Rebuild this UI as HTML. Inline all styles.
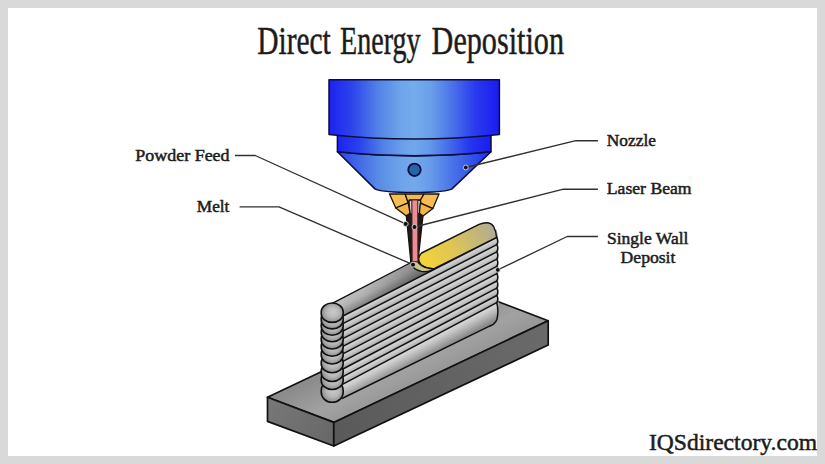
<!DOCTYPE html>
<html>
<head>
<meta charset="utf-8">
<title>Direct Energy Deposition</title>
<style>
  html, body { margin: 0; padding: 0; background: #d9d9d9; }
  body { width: 825px; height: 464px; overflow: hidden; font-family: "Liberation Serif", serif; }
  svg { display: block; }
  text { font-family: "Liberation Serif", serif; fill: #1c1c1c; stroke: #1c1c1c; stroke-width: 0.5px; }
</style>
</head>
<body>
<svg width="825" height="464" viewBox="0 0 825 464">
  <defs>
    <linearGradient id="gRing" x1="0" y1="0" x2="1" y2="0">
      <stop offset="0" stop-color="#1c22f2"/>
      <stop offset="0.14" stop-color="#2a40ec"/>
      <stop offset="0.3" stop-color="#5282e6"/>
      <stop offset="0.42" stop-color="#699fea"/>
      <stop offset="0.5" stop-color="#70a8ec"/>
      <stop offset="0.6" stop-color="#6698ea"/>
      <stop offset="0.72" stop-color="#466ee8"/>
      <stop offset="0.86" stop-color="#2636ee"/>
      <stop offset="1" stop-color="#1a1cf0"/>
    </linearGradient>
    <linearGradient id="gCone" x1="0" y1="0" x2="1" y2="0">
      <stop offset="0" stop-color="#2a44e6"/>
      <stop offset="0.28" stop-color="#5a8ee6"/>
      <stop offset="0.42" stop-color="#6ea4ea"/>
      <stop offset="0.5" stop-color="#72aaec"/>
      <stop offset="0.6" stop-color="#689cea"/>
      <stop offset="0.74" stop-color="#4a76e8"/>
      <stop offset="1" stop-color="#2030ea"/>
    </linearGradient>
    <linearGradient id="gBlue" x1="0" y1="0" x2="1" y2="0">
      <stop offset="0" stop-color="#1e20f2"/>
      <stop offset="0.14" stop-color="#2d46ea"/>
      <stop offset="0.3" stop-color="#5686e6"/>
      <stop offset="0.42" stop-color="#6ea4ea"/>
      <stop offset="0.5" stop-color="#74acec"/>
      <stop offset="0.6" stop-color="#6a9eea"/>
      <stop offset="0.72" stop-color="#4a74e8"/>
      <stop offset="0.86" stop-color="#2a3aee"/>
      <stop offset="1" stop-color="#1a1af2"/>
    </linearGradient>
    <linearGradient id="gBand" gradientUnits="userSpaceOnUse" x1="0" y1="0" x2="0" y2="7.57" spreadMethod="repeat">
      <stop offset="0" stop-color="#d4d4d4"/>
      <stop offset="0.2" stop-color="#d2d2d2"/>
      <stop offset="0.6" stop-color="#bcbcbc"/>
      <stop offset="1" stop-color="#969696"/>
    </linearGradient>
    <linearGradient id="gBandL" gradientUnits="userSpaceOnUse" x1="0" y1="68.1" x2="0" y2="84.1">
      <stop offset="0" stop-color="#d8d8d8"/>
      <stop offset="0.4" stop-color="#c4c4c4"/>
      <stop offset="1" stop-color="#8c8c8c"/>
    </linearGradient>
    <radialGradient id="gCap" cx="0.52" cy="0.5" r="0.62" fx="0.55" fy="0.45">
      <stop offset="0" stop-color="#cbcbcb"/>
      <stop offset="0.45" stop-color="#b8b8b8"/>
      <stop offset="1" stop-color="#7a7a7a"/>
    </radialGradient>
    <linearGradient id="gTopBead" gradientUnits="userSpaceOnUse" x1="0" y1="-17" x2="0" y2="0">
      <stop offset="0" stop-color="#c2c2c2"/>
      <stop offset="0.4" stop-color="#b8b8b8"/>
      <stop offset="1" stop-color="#868686"/>
    </linearGradient>
    <linearGradient id="gTopDark" gradientUnits="userSpaceOnUse" x1="-10" y1="0" x2="72" y2="0">
      <stop offset="0" stop-color="#000" stop-opacity="0"/>
      <stop offset="0.35" stop-color="#000" stop-opacity="0.04"/>
      <stop offset="1" stop-color="#000" stop-opacity="0.26"/>
    </linearGradient>
    <linearGradient id="gYellow" gradientUnits="userSpaceOnUse" x1="424" y1="262" x2="492" y2="228">
      <stop offset="0" stop-color="#f3d33c"/>
      <stop offset="0.4" stop-color="#e0c652"/>
      <stop offset="0.8" stop-color="#c2b57c"/>
      <stop offset="1" stop-color="#b2ad92"/>
    </linearGradient>
    <linearGradient id="gBaseTop" gradientUnits="userSpaceOnUse" x1="395" y1="340" x2="425" y2="400">
      <stop offset="0" stop-color="#8c8c8c"/>
      <stop offset="0.45" stop-color="#a2a2a2"/>
      <stop offset="1" stop-color="#8d8d8d"/>
    </linearGradient>
    <linearGradient id="gBaseL" gradientUnits="userSpaceOnUse" x1="267" y1="400" x2="334" y2="445">
      <stop offset="0" stop-color="#787878"/>
      <stop offset="1" stop-color="#676767"/>
    </linearGradient>
    <linearGradient id="gBaseR" gradientUnits="userSpaceOnUse" x1="334" y1="435" x2="548" y2="332">
      <stop offset="0" stop-color="#5a5a5a"/>
      <stop offset="1" stop-color="#6a6a6a"/>
    </linearGradient>
    <linearGradient id="b0" gradientUnits="userSpaceOnUse" x1="419.9" y1="276.7" x2="422.9" y2="282.6"><stop offset="0" stop-color="#d4d4d4"/><stop offset="0.3" stop-color="#cfcfcf"/><stop offset="0.7" stop-color="#bbbbbb"/><stop offset="1" stop-color="#a0a0a0"/></linearGradient><linearGradient id="b1" gradientUnits="userSpaceOnUse" x1="419.9" y1="284.1" x2="422.9" y2="290"><stop offset="0" stop-color="#d4d4d4"/><stop offset="0.3" stop-color="#cfcfcf"/><stop offset="0.7" stop-color="#bbbbbb"/><stop offset="1" stop-color="#a0a0a0"/></linearGradient><linearGradient id="b2" gradientUnits="userSpaceOnUse" x1="419.9" y1="291.5" x2="422.9" y2="297.4"><stop offset="0" stop-color="#d4d4d4"/><stop offset="0.3" stop-color="#cfcfcf"/><stop offset="0.7" stop-color="#bbbbbb"/><stop offset="1" stop-color="#a0a0a0"/></linearGradient><linearGradient id="b3" gradientUnits="userSpaceOnUse" x1="419.9" y1="298.9" x2="422.9" y2="304.8"><stop offset="0" stop-color="#d4d4d4"/><stop offset="0.3" stop-color="#cfcfcf"/><stop offset="0.7" stop-color="#bbbbbb"/><stop offset="1" stop-color="#a0a0a0"/></linearGradient><linearGradient id="b4" gradientUnits="userSpaceOnUse" x1="419.9" y1="306.4" x2="422.9" y2="312.2"><stop offset="0" stop-color="#d4d4d4"/><stop offset="0.3" stop-color="#cfcfcf"/><stop offset="0.7" stop-color="#bbbbbb"/><stop offset="1" stop-color="#a0a0a0"/></linearGradient><linearGradient id="b5" gradientUnits="userSpaceOnUse" x1="419.9" y1="313.8" x2="422.9" y2="319.6"><stop offset="0" stop-color="#d4d4d4"/><stop offset="0.3" stop-color="#cfcfcf"/><stop offset="0.7" stop-color="#bbbbbb"/><stop offset="1" stop-color="#a0a0a0"/></linearGradient><linearGradient id="b6" gradientUnits="userSpaceOnUse" x1="419.9" y1="321.2" x2="422.9" y2="327"><stop offset="0" stop-color="#d4d4d4"/><stop offset="0.3" stop-color="#cfcfcf"/><stop offset="0.7" stop-color="#bbbbbb"/><stop offset="1" stop-color="#a0a0a0"/></linearGradient><linearGradient id="b7" gradientUnits="userSpaceOnUse" x1="419.9" y1="328.6" x2="423" y2="334.4"><stop offset="0" stop-color="#d4d4d4"/><stop offset="0.3" stop-color="#cfcfcf"/><stop offset="0.7" stop-color="#bbbbbb"/><stop offset="1" stop-color="#a0a0a0"/></linearGradient><linearGradient id="b8" gradientUnits="userSpaceOnUse" x1="419.9" y1="336" x2="423" y2="341.8"><stop offset="0" stop-color="#d4d4d4"/><stop offset="0.3" stop-color="#cfcfcf"/><stop offset="0.7" stop-color="#bbbbbb"/><stop offset="1" stop-color="#a0a0a0"/></linearGradient><linearGradient id="b9" gradientUnits="userSpaceOnUse" x1="419.9" y1="343.4" x2="426.9" y2="356.6"><stop offset="0" stop-color="#d6d6d6"/><stop offset="0.2" stop-color="#cfcfcf"/><stop offset="0.6" stop-color="#aeaeae"/><stop offset="1" stop-color="#8a8a8a"/></linearGradient>
    <clipPath id="wallClip"><path d="M331 303.9 L486 224.2 L496.8 230 L498.4 240 L498.4 315.2 Q497.4 323.2 490.5 325.7 L343 398 L331 398 Z"/></clipPath>
  </defs>

  <!-- frame -->
  <rect x="0" y="0" width="825" height="464" fill="#d9d9d9"/>
  <rect x="8" y="8" width="809" height="448" fill="#ffffff"/>

  <!-- title -->
  <g font-size="41" style="stroke-width:1.05px" stroke-linejoin="round">
    <text x="257.2" y="54.2" textLength="73.6" lengthAdjust="spacingAndGlyphs">Direct</text>
    <text x="340" y="54.2" textLength="80.6" lengthAdjust="spacingAndGlyphs">Energy</text>
    <text x="431.6" y="54.2" textLength="132.4" lengthAdjust="spacingAndGlyphs">Deposition</text>
  </g>

  <!-- base plate -->
  <g stroke="#111" stroke-width="1.7" stroke-linejoin="round">
    <path d="M267.5 397.2 L481.9 295.5 L548.2 320.7 L333.8 422.4 Z" fill="url(#gBaseTop)"/>
    <path d="M267.5 397.2 L333.8 422.4 L333.8 446 L267.5 421.4 Z" fill="url(#gBaseL)"/>
    <path d="M333.8 422.4 L548.2 320.7 L548.2 345 L333.8 446 Z" fill="url(#gBaseR)"/>
  </g>

  <!-- wall -->
  <g clip-path="url(#wallClip)">
    <g transform="translate(343 316) skewY(-27.069)">
      <rect x="-14" y="-22" width="171.8" height="23" fill="url(#gTopBead)"/>
      <rect x="-14" y="-22" width="100" height="23" fill="url(#gTopDark)"/>
    </g>
    <path d="M341 317 L500.8 235.4 L500.8 243.2 L341 325.2 Z" fill="url(#b0)"/><path d="M341 324.6 L500.8 242.6 L500.8 250.5 L341 332.8 Z" fill="url(#b1)"/><path d="M341 332.2 L500.8 249.9 L500.8 257.7 L341 340.3 Z" fill="url(#b2)"/><path d="M341 339.7 L500.8 257.1 L500.8 265 L341 347.9 Z" fill="url(#b3)"/><path d="M341 347.3 L500.8 264.4 L500.8 272.2 L341 355.5 Z" fill="url(#b4)"/><path d="M341 354.9 L500.8 271.6 L500.8 279.5 L341 363.1 Z" fill="url(#b5)"/><path d="M341 362.5 L500.8 278.9 L500.8 286.7 L341 370.6 Z" fill="url(#b6)"/><path d="M341 370 L500.8 286.1 L500.8 294 L341 378.2 Z" fill="url(#b7)"/><path d="M341 377.6 L500.8 293.4 L500.8 301.2 L341 385.8 Z" fill="url(#b8)"/><path d="M341 385.2 L500.8 300.6 L500.8 321.1 L341 399.7 Z" fill="url(#b9)"/>
  </g>
  <g stroke="#111" stroke-width="1.5" fill="none" stroke-linecap="round">
    <path d="M342 316.5 L496.8 237.4"/><path d="M342 324.1 L496.8 244.7"/><path d="M342 331.6 L496.8 251.9"/><path d="M342 339.2 L496.8 259.2"/><path d="M342 346.8 L496.8 266.4"/><path d="M342 354.4 L496.8 273.7"/><path d="M342 361.9 L496.8 281"/><path d="M342 369.5 L496.8 288.2"/><path d="M342 377.1 L496.8 295.5"/><path d="M342 384.6 L496.8 302.7"/>
    <path d="M342 398.5 L490.5 325.7"/>
    <path d="M496.6 237.4 Q498.8 241 496.8 244.7 Q498.8 248.3 496.8 251.9 Q498.8 255.6 496.8 259.2 Q498.8 262.8 496.8 266.4 Q498.8 270.1 496.8 273.7 Q498.8 277.3 496.8 281 Q498.8 284.6 496.8 288.2 Q498.8 291.9 496.8 295.5 Q498.8 299.1 496.8 302.7 Q498.4 308.7 497.6 315.2 Q497.4 323.2 490.5 325.7"/>
  </g>

  <!-- top bead: grey part outline + yellow hot part -->
  <g stroke="#111" stroke-width="1.4" fill="none" stroke-linejoin="round">
    <path d="M332.2 303.4 L410 263"/>
    <path d="M421.6 253 L479 224.4 Q489.5 220.2 493.6 226.5 Q496 231 496.6 237.4 L434.6 268.5 Q426.8 269.2 420.8 264.5 Q416 258.3 421.6 253 Z" fill="url(#gYellow)"/>
    <!-- melt pool -->
    <path d="M410.7 261.9 Q412.5 257 417.2 257.6 Q416.4 262.6 421.8 265.6 Q427.2 269 434.2 268.6 Q429.5 272.4 421.6 271.4 Q412.4 269.8 410.7 261.9 Z" fill="#cdc68a"/>
  </g>

  <!-- left end cap beads -->
  <g stroke="#111" stroke-width="1.6">
    <rect x="321.2" y="380.3" width="22" height="22" rx="11" ry="10.2" fill="url(#gCap)"/><rect x="321.2" y="370.1" width="22" height="19.4" rx="11" ry="9" fill="url(#gCap)"/><rect x="321.2" y="362.1" width="22" height="19.4" rx="11" ry="9" fill="url(#gCap)"/><rect x="321.2" y="353.4" width="22" height="19.4" rx="11" ry="9" fill="url(#gCap)"/><rect x="321.2" y="344.6" width="22" height="19.4" rx="11" ry="9" fill="url(#gCap)"/><rect x="321.2" y="336.9" width="22" height="19.4" rx="11" ry="9" fill="url(#gCap)"/><rect x="321.2" y="329.6" width="22" height="19.4" rx="11" ry="9" fill="url(#gCap)"/><rect x="321.2" y="322.4" width="22" height="19.4" rx="11" ry="9" fill="url(#gCap)"/><rect x="321.2" y="315.9" width="22" height="19.4" rx="11" ry="9" fill="url(#gCap)"/><rect x="321.2" y="309.5" width="22" height="19.4" rx="11" ry="9" fill="url(#gCap)"/><rect x="321.2" y="303" width="22" height="19.4" rx="11" ry="9" fill="url(#gCap)"/>
  </g>

  <!-- nozzle tip (gold) -->
  <g stroke="#1a1208" stroke-width="1.3" stroke-linejoin="round">
    <!-- black powder channels -->
    <path d="M406.3 215.6 L410 213 L412.2 214 L412.3 261.6 L410.8 261.6 Z" fill="#1c1a18"/>
    <path d="M417.6 214 L419.4 213 L423 215.6 L417.9 261.6 L416.5 261.6 Z" fill="#1c1a18"/>
    <!-- inner tube walls (light) -->
    <path d="M409.2 200 L411.9 200 L412.2 214 L410 213.2 Z" fill="#dcdcdc" stroke-width="0.9"/>
    <path d="M417.7 200 L420.5 200 L419.4 213.2 L417.6 214 Z" fill="#dcdcdc" stroke-width="0.9"/>
    <!-- gold pieces : left -->
    <path d="M389.4 193.8 L405.2 194 L408.2 202.9 L395.8 208 Z" fill="#f6bd52"/>
    <path d="M395.8 208 L408.2 202.9 L410 213.2 L406.3 215.9 Z" fill="#f4b545"/>
    <!-- center -->
    <path d="M405.2 194 L424 194 L420.5 200 L409.2 200 L408.2 202.9 Z" fill="#f3ba52"/>
    <!-- right -->
    <path d="M424 194 L439.1 193.8 L432.9 208.6 L421 203.3 L420.5 200 Z" fill="#f6bd52"/>
    <path d="M421 203.3 L432.9 208.6 L423 215.9 L419.4 213.2 L420.3 203.8 Z" fill="#f4b545"/>
    <!-- laser beam -->
    <path d="M411.9 200 L417.7 200 L417.9 261.6 L412.2 261.6 Z" fill="#ea8e96" stroke="#5a2228" stroke-width="1"/>
  </g>

  <!-- nozzle body -->
  <g stroke="#0a0d40" stroke-width="1.5" stroke-linejoin="round">
    <path d="M337.4 151.8 L375.2 189.1 C386 193.6 441 193.6 451.7 189.1 L491 151.8 Q414 160 337.4 151.8 Z" fill="url(#gCone)"/>
    <path d="M337.4 133.5 L337.4 151.8 Q414 159.5 491 151.8 L491 133.5 Z" fill="url(#gRing)"/>
    <path d="M329 79.8 L499.4 79.8 L499.4 134.4 Q414 143.6 329 134.4 Z" fill="url(#gBlue)"/>
    <circle cx="414.5" cy="169.8" r="6.2" fill="#2565a8" stroke-width="1.9"/>
  </g>

  <!-- leader lines -->
  <g stroke="#303030" stroke-width="1.35" fill="none" stroke-linejoin="round">
    <path d="M235 155.5 L255.2 155.5 L405.7 223.9"/>
    <path d="M239.6 206.9 L279 206.9 L413 264.7"/>
    <path d="M597.9 140.7 L575.8 140.7 L465.8 167.5"/>
    <path d="M597.9 189.2 L563.4 189.2 L414.5 227"/>
    <path d="M597.9 236.5 L567.2 236.5 L497.8 269.9"/>
  </g>
  <g fill="#111" stroke="#d8d8d8" stroke-width="0.9">
    <circle cx="405.7" cy="223.9" r="2.5"/>
    <circle cx="414.5" cy="227" r="2.5"/>
    <circle cx="413" cy="264.7" r="2.5"/>
    <circle cx="465.8" cy="167.5" r="2.4"/>
    <circle cx="497.8" cy="269.9" r="2.4"/>
  </g>

  <!-- labels -->
  <g font-size="17.2">
    <text x="135.2" y="160.8" textLength="94.4" lengthAdjust="spacingAndGlyphs">Powder Feed</text>
    <text x="196.8" y="212" textLength="32.6" lengthAdjust="spacingAndGlyphs">Melt</text>
    <text x="606.8" y="146" textLength="49.2" lengthAdjust="spacingAndGlyphs">Nozzle</text>
    <text x="606.8" y="194" textLength="84.8" lengthAdjust="spacingAndGlyphs">Laser Beam</text>
    <text x="607" y="244.4" textLength="81.4" lengthAdjust="spacingAndGlyphs">Single Wall</text>
    <text x="620.6" y="263.3" textLength="54.8" lengthAdjust="spacingAndGlyphs">Deposit</text>
  </g>
  <text x="649" y="449.6" font-size="24" textLength="168" lengthAdjust="spacingAndGlyphs">IQSdirectory.com</text>
</svg>
</body>
</html>
